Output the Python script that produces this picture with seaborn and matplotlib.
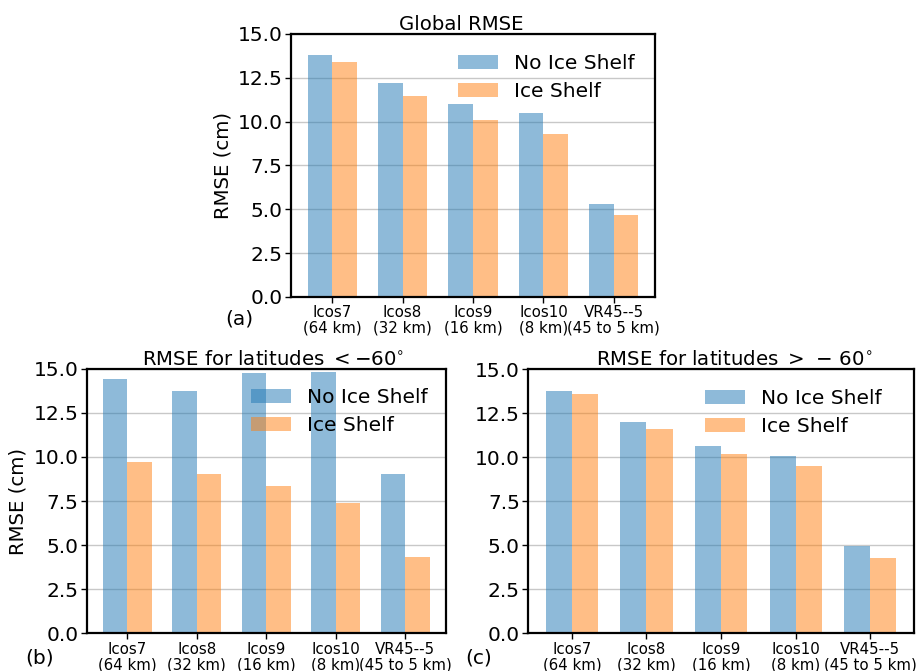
import matplotlib
matplotlib.use("Agg")
import matplotlib.pyplot as plt
import matplotlib.patches as mpatches
import seaborn as sns
import pandas as pd

models = ["Icos7\n(64 km)", "Icos8\n(32 km)", "Icos9\n(16 km)", "Icos10\n(8 km)", "VR45--5\n(45 to 5 km)"]
cases = ["No Ice Shelf", "Ice Shelf"]

global_no_ice = [13.80, 12.22, 11.00, 10.47, 5.29]
global_ice = [13.42, 11.46, 10.09, 9.27, 4.67]

south_no_ice = [14.43, 13.73, 14.77, 14.81, 9.01]
south_ice = [9.73, 9.05, 8.35, 7.39, 4.33]

north_no_ice = [13.79, 12.01, 10.63, 10.06, 4.96]
north_ice = [13.62, 11.59, 10.21, 9.53, 4.30]

yticks = [0.0, 2.5, 5.0, 7.5, 10.0, 12.5, 15.0]
colors = ["#1f77b4", "#ff7f0e"]

sns.set_style("white")
plt.rcParams["font.family"] = ["DejaVu Sans"]
plt.rcParams["text.color"] = "black"
plt.rcParams["axes.labelcolor"] = "black"
plt.rcParams["xtick.color"] = "black"
plt.rcParams["ytick.color"] = "black"

fig = plt.figure(figsize=(9.2, 6.71), dpi=100)

def make_df(no_ice, ice):
    rows = []
    for m, v in zip(models, no_ice):
        rows.append({"model": m, "case": cases[0], "rmse": v})
    for m, v in zip(models, ice):
        rows.append({"model": m, "case": cases[1], "rmse": v})
    return pd.DataFrame(rows)

def panel(rect, no_ice, ice, title, title_x, ylabel, leg_anchor, letter, letter_pos):
    ax = fig.add_axes(rect)
    df = make_df(no_ice, ice)
    sns.barplot(data=df, x="model", y="rmse", hue="case", hue_order=cases,
                order=models, palette=colors, alpha=0.5, width=0.7,
                saturation=1, linewidth=0, errorbar=None, ax=ax)
    ax.set_ylim(0, 15)
    ax.set_xlim(-0.585, 4.585)
    ax.set_yticks(yticks)
    ax.set_yticklabels([f"{t:.1f}" for t in yticks], fontsize=14.5, color="black")
    ax.set_xticks(range(len(models)))
    ax.set_xticklabels(models, fontsize=10.8, linespacing=1.05, color="black")
    ax.yaxis.grid(True, color="#c8c8c8", linewidth=1.0)
    ax.set_axisbelow(True)
    ax.tick_params(axis="both", direction="out", length=4, width=1, pad=2,
                   left=True, bottom=True, colors="black")
    for s in ax.spines.values():
        s.set_color("black")
        s.set_linewidth(1.6)
    ax.set_xlabel("")
    if ylabel:
        ax.set_ylabel(ylabel, fontsize=14.2, labelpad=4, color="black")
    else:
        ax.set_ylabel("")
    ax.set_title(title, fontsize=14.2, x=title_x, pad=3, color="black")
    if ax.get_legend() is not None:
        ax.get_legend().remove()
    handles = [mpatches.Patch(facecolor=c, alpha=0.5, linewidth=0) for c in colors]
    leg = ax.legend(handles, cases, loc="upper left", bbox_to_anchor=leg_anchor,
                    frameon=False, fontsize=14.5, borderpad=0, borderaxespad=0,
                    handlelength=2.0, handleheight=0.7, handletextpad=0.8,
                    labelspacing=0.45)
    for t in leg.get_texts():
        t.set_color("black")
    fig.text(letter_pos[0], letter_pos[1], letter, fontsize=14.5, ha="left", va="center",
             color="black")
    return ax

panel([0.3163, 0.5574, 0.3957, 0.3920], global_no_ice, global_ice,
      "Global RMSE", 0.467, "RMSE (cm)", (0.459, 0.925), "(a)", (0.2446, 0.5246))
panel([0.0942, 0.0562, 0.3905, 0.3943], south_no_ice, south_ice,
      r"RMSE for latitudes $<-60^{\circ}$", 0.52, "RMSE (cm)", (0.457, 0.926), "(b)", (0.027, 0.0194))
panel([0.5742, 0.0562, 0.4192, 0.3934], north_no_ice, north_ice,
      r"RMSE for latitudes $>\,-\,60^{\circ}$", 0.533, None, (0.458, 0.924), "(c)", (0.5054, 0.0194))

fig.savefig("out.png", dpi=100)
